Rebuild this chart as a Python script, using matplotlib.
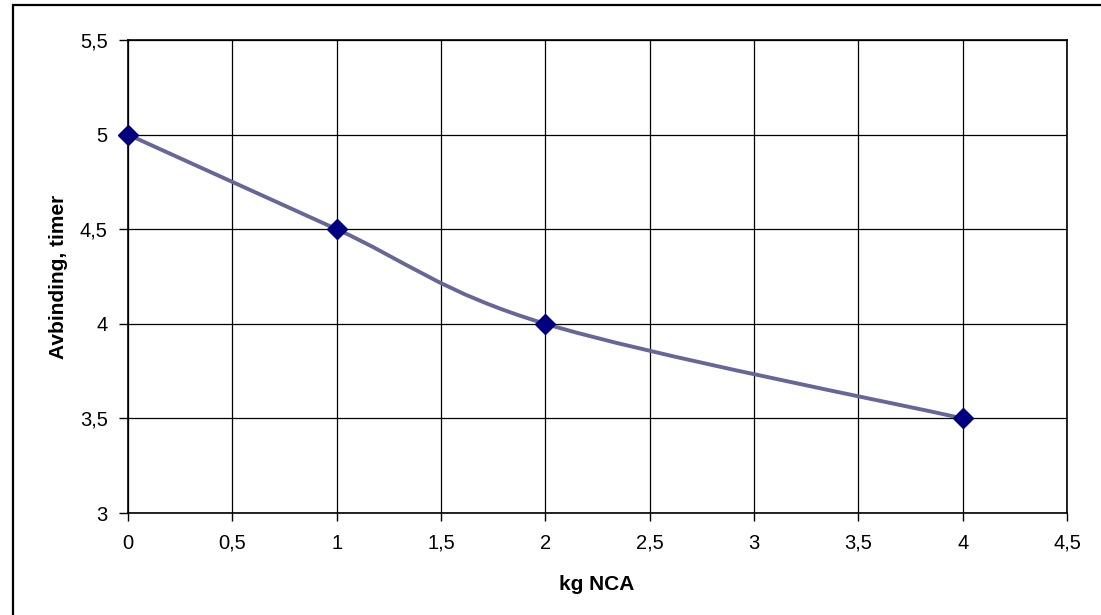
import numpy as np
import matplotlib
matplotlib.use("Agg")
import matplotlib.pyplot as plt
from matplotlib.path import Path
from matplotlib.patches import PathPatch, Rectangle

plt.rcParams['font.family'] = ['Liberation Sans', 'DejaVu Sans']

# Data
kg_nca = [0, 1, 2, 4]
avbinding_timer = [5.0, 4.5, 4.0, 3.5]

x_ticks = [0, 0.5, 1, 1.5, 2, 2.5, 3, 3.5, 4, 4.5]
y_ticks = [3, 3.5, 4, 4.5, 5, 5.5]
x_label = "kg NCA"
y_label = "Avbinding, timer"


def fmt(v):
    s = f"{v:g}"
    return s.replace(".", ",")


def smooth_path(xs, ys):
    """Spreadsheet-style smoothed line: cubic Bezier segments through the points."""
    pts = np.column_stack([xs, ys]).astype(float)
    n = len(pts)
    verts = [pts[0]]
    codes = [Path.MOVETO]
    for i in range(n - 1):
        p0 = pts[i - 1] if i > 0 else pts[i]
        p1 = pts[i]
        p2 = pts[i + 1]
        p3 = pts[i + 2] if i + 2 < n else pts[i + 1]
        c1 = p1 + (p2 - p0) / 6.0
        c2 = p2 - (p3 - p1) / 6.0
        verts += [c1, c2, p2]
        codes += [Path.CURVE4] * 3
    return Path(np.array(verts), codes)


W, H = 1101, 615
fig = plt.figure(figsize=(W / 100, H / 100), dpi=100)
fig.patch.set_facecolor("white")

left, right, top, bottom = 128, 1067, 40, 513
ax = fig.add_axes([left / W, 1 - bottom / H, (right - left) / W, (bottom - top) / H])

ax.set_xlim(0, 4.5)
ax.set_ylim(3, 5.5)
ax.set_xticks(x_ticks)
ax.set_yticks(y_ticks)
ax.set_xticklabels([fmt(v) for v in x_ticks])
ax.set_yticklabels([fmt(v) for v in y_ticks])
ax.tick_params(axis="both", direction="out", width=1, color="black",
               labelsize=14.5, labelcolor="black")
ax.tick_params(axis="x", length=5.5, pad=9.5)
ax.tick_params(axis="y", length=6.5, pad=8)

ax.grid(True, color="black", linewidth=0.9)
ax.set_axisbelow(True)
for sp in ax.spines.values():
    sp.set_color("black")
    sp.set_linewidth(1.2)

# Smoothed line
ax.add_patch(PathPatch(smooth_path(kg_nca, avbinding_timer), facecolor="none",
                       edgecolor="#666699", linewidth=2.8, capstyle="round",
                       joinstyle="round", zorder=3))
ax.plot(kg_nca, avbinding_timer, linestyle="none", marker="D", markersize=10.5,
        markerfacecolor="#000080", markeredgecolor="#000080", zorder=4, clip_on=False)

fig.text(597 / W, 1 - 590 / H, x_label, ha="center", va="baseline",
         fontsize=15, fontweight="bold")
fig.text(64 / W, 1 - 276.5 / H, y_label, ha="center", va="baseline",
         rotation=90, rotation_mode="anchor", fontsize=15, fontweight="bold")

# Outer chart border
fig.patches.append(Rectangle((13 / W, -0.2), 1.3, (1 - 5 / H) + 0.2,
                             transform=fig.transFigure, fill=False,
                             edgecolor="black", linewidth=1.6))

fig.savefig("out.png", dpi=100, facecolor="white")
